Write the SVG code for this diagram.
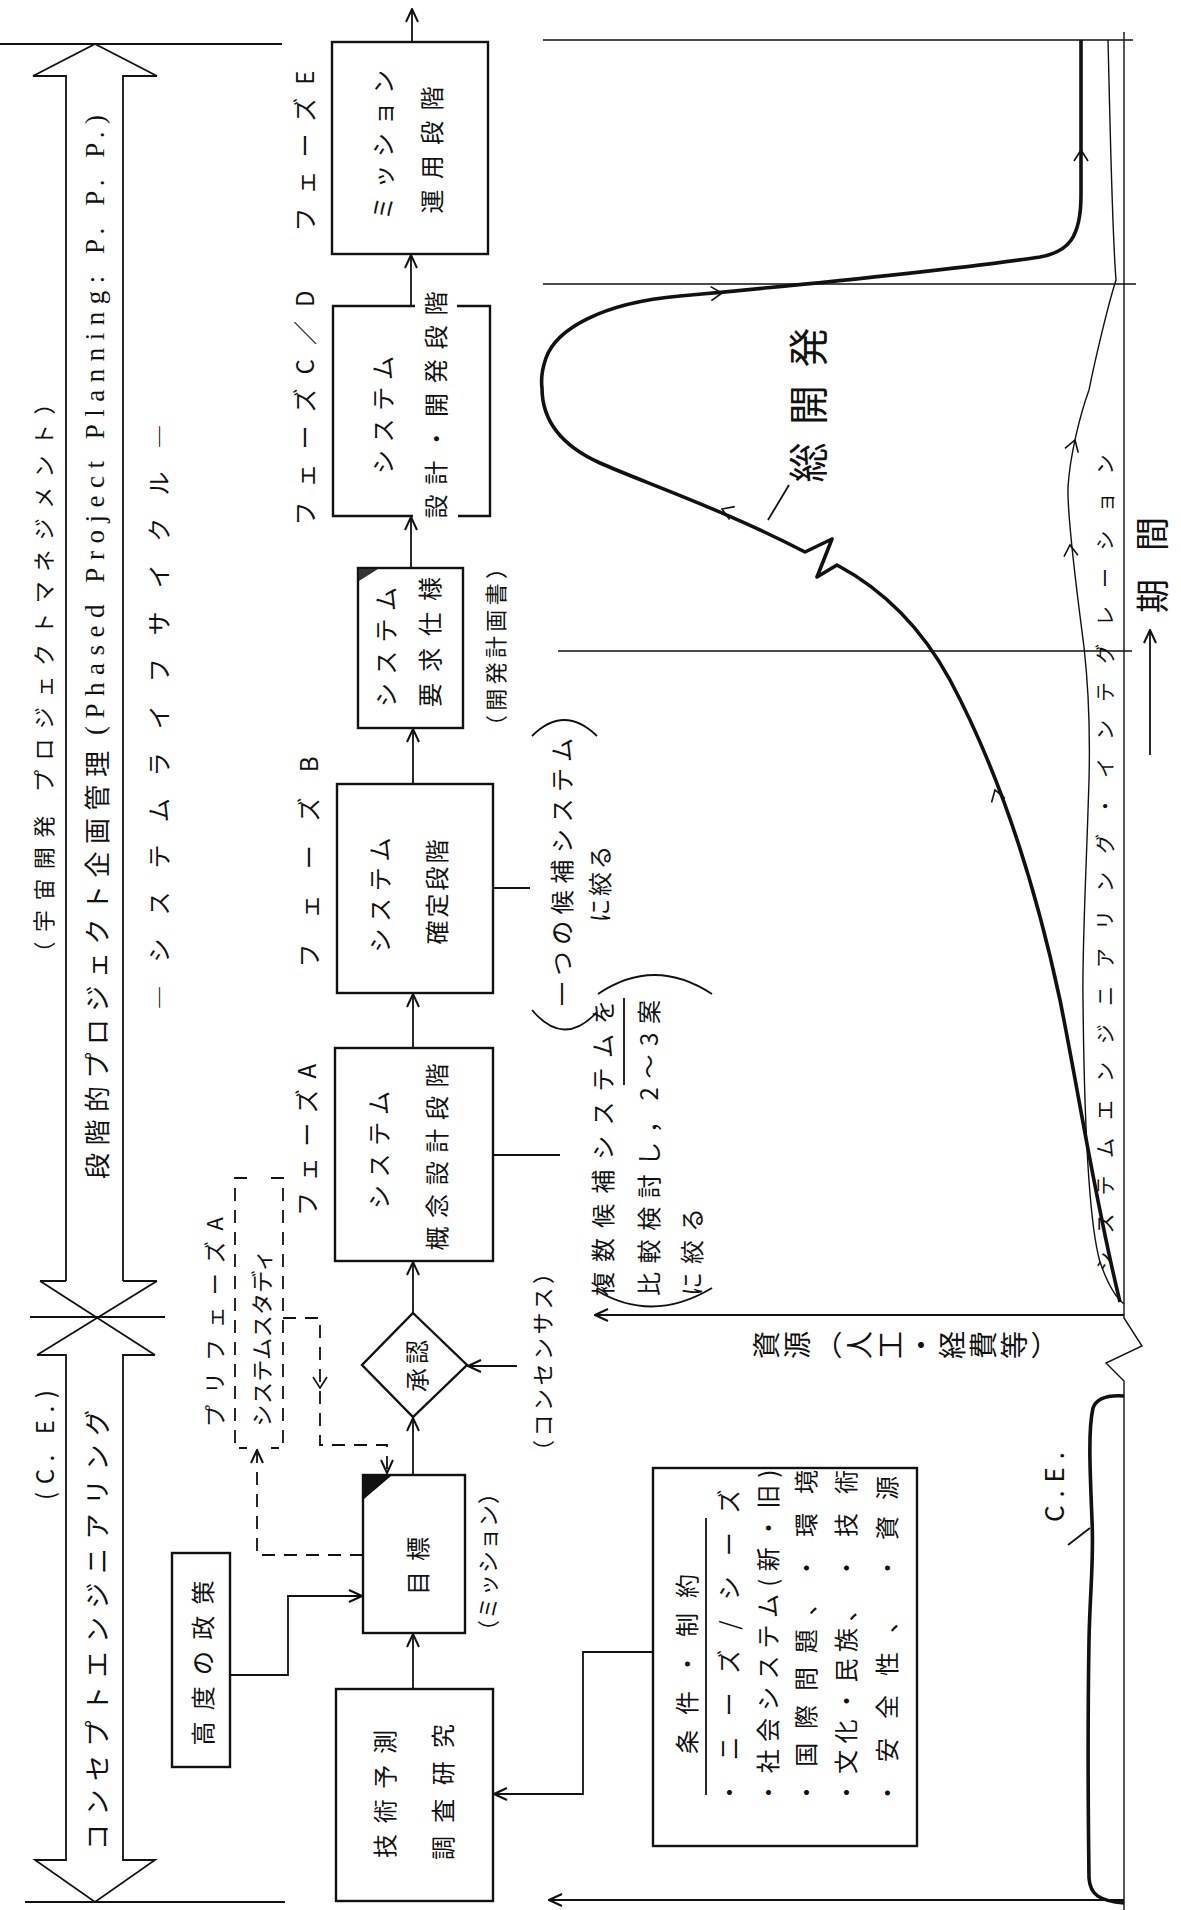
<svg xmlns="http://www.w3.org/2000/svg" width="1181" height="1910" viewBox="0 0 1181 1910">
<defs>
<style>
.jp{font-family:'Noto Sans CJK JP','Noto Sans CJK SC',sans-serif;fill:#111}
.en{font-family:'Liberation Serif',serif;fill:#111}
.r{text-anchor:middle;dominant-baseline:central}
.ln{fill:none;stroke:#111;stroke-width:1.8}
.bx{fill:none;stroke:#111;stroke-width:2.4}
.ds{fill:none;stroke:#111;stroke-width:1.8;stroke-dasharray:13 9}
.th{fill:none;stroke:#111;stroke-width:1.4}
.cv{fill:none;stroke:#111;stroke-width:3.6;stroke-linejoin:round}
</style>
<marker id="ah" viewBox="0 0 16 16" refX="15" refY="8" markerWidth="16" markerHeight="16" markerUnits="userSpaceOnUse" orient="auto">
<path d="M2,2 L15,8 L2,14" fill="none" stroke="#111" stroke-width="2"/>
</marker>
<path id="chev" d="M-11,-7 L0,0 L-11,7" fill="none" stroke="#111" stroke-width="1.6"/>
</defs>
<rect width="1181" height="1910" fill="#fff"/>

<g id="management-arrows">
<path class="ln" d="M66,1281 V76 H33 L95,44 L157,76 H123 V1281"/>
<path class="ln" d="M40,1281 H66 M123,1281 H157 M40,1281 L155,1355 M157,1281 L37,1355"/>
<path class="ln" d="M37,1355 H66 V1860 H35 L95,1902 L155,1860 H123 V1355 H155"/>
<path class="ln" d="M0,44 H282 M30,1317 H165 M25,1902 H285"/>
<text class="jp r" font-size="22" transform="translate(42 678) rotate(-90)" textLength="571" lengthAdjust="spacing">（宇宙開発 プロジェクトマネジメント）</text>
<text class="jp r" font-size="26" transform="translate(95 965) rotate(-90)" textLength="428" lengthAdjust="spacing">段階的プロジェクト企画管理</text>
<text class="en r" font-size="27" transform="translate(95 425) rotate(-90)" textLength="620" lengthAdjust="spacing">(Phased Project Planning: P. P. P.)</text>
<text class="jp r" font-size="24" transform="translate(157 717) rotate(-90)" textLength="585" lengthAdjust="spacing">―システムライフサイクル―</text>
<text class="jp r" font-size="24" transform="translate(43 1445) rotate(-90)" textLength="110" lengthAdjust="spacing">(C. E.)</text>
<text class="jp r" font-size="26" transform="translate(95 1630) rotate(-90)" textLength="440" lengthAdjust="spacing">コンセプトエンジニアリング</text>
</g>

<g id="phase-labels">
<text class="jp r" font-size="24" transform="translate(303 151) rotate(-90)" textLength="161" lengthAdjust="spacing">フェーズE</text>
<text class="jp r" font-size="24" transform="translate(303 408) rotate(-90)" textLength="235" lengthAdjust="spacing">フェーズC／D</text>
<text class="jp r" font-size="24" transform="translate(307 862) rotate(-90)" textLength="211" lengthAdjust="spacing">フェーズB</text>
<text class="jp r" font-size="24" transform="translate(305 1140) rotate(-90)" textLength="152" lengthAdjust="spacing">フェーズA</text>
</g>

<g id="node-phaseE">
<rect class="bx" x="332" y="42" width="156" height="212" stroke-width="3"/>
<text class="jp r" font-size="24" transform="translate(381 145) rotate(-90)" textLength="150" lengthAdjust="spacing">ミッション</text>
<text class="jp r" font-size="24" transform="translate(430 150) rotate(-90)" textLength="127" lengthAdjust="spacing">運用段階</text>
</g>

<g id="node-phaseCD">
<path class="bx" d="M415,306 H333 V516 H413 M458,516 H490 V306 H457" stroke-width="3"/>
<text class="jp r" font-size="24" transform="translate(381 415) rotate(-90)" textLength="118" lengthAdjust="spacing">システム</text>
<text class="jp r" font-size="24" transform="translate(434 405) rotate(-90)" textLength="227" lengthAdjust="spacing">設計・開発段階</text>
</g>

<g id="node-sysreq">
<rect class="bx" x="358" y="568" width="105" height="160"/>
<polygon points="359,569 378,569 359,581" fill="#333"/>
<text class="jp r" font-size="24" transform="translate(384 647) rotate(-90)" textLength="120" lengthAdjust="spacing">システム</text>
<text class="jp r" font-size="24" transform="translate(428 642) rotate(-90)" textLength="130" lengthAdjust="spacing">要求仕様</text>
<text class="jp r" font-size="22" transform="translate(494 647) rotate(-90)" textLength="180" lengthAdjust="spacing">（開発計画書）</text>
</g>

<g id="node-phaseB">
<rect class="bx" x="337" y="784" width="156" height="209"/>
<text class="jp r" font-size="24" transform="translate(378 895) rotate(-90)" textLength="115" lengthAdjust="spacing">システム</text>
<text class="jp r" font-size="24" transform="translate(435 892) rotate(-90)" textLength="105" lengthAdjust="spacing">確定段階</text>
</g>

<g id="node-phaseA">
<rect class="bx" x="335" y="1048" width="158" height="213"/>
<text class="jp r" font-size="24" transform="translate(377 1150) rotate(-90)" textLength="118" lengthAdjust="spacing">システム</text>
<text class="jp r" font-size="24" transform="translate(435 1157) rotate(-90)" textLength="187" lengthAdjust="spacing">概念設計段階</text>
</g>

<g id="node-approval">
<polygon class="bx" points="413,1313 467,1365 413,1417 362,1365"/>
<text class="jp r" font-size="24" transform="translate(415 1366) rotate(-90)" textLength="52" lengthAdjust="spacing">承認</text>
<text class="jp r" font-size="22" transform="translate(541 1362) rotate(-90)" textLength="200" lengthAdjust="spacing">（コンセンサス）</text>
</g>

<g id="node-prephaseA">
<path class="ds" d="M247,1178 H235 V1448 H247 M271,1178 H283 V1448 H271"/>
<text class="jp r" font-size="22" transform="translate(213 1322) rotate(-90)" textLength="210" lengthAdjust="spacing">プリフェーズA</text>
<text class="jp r" font-size="22" transform="translate(260 1338) rotate(-90)" textLength="177" lengthAdjust="spacing">システムスタディ</text>
</g>

<g id="node-goal">
<rect class="bx" x="363" y="1475" width="102" height="158"/>
<polygon points="364,1476 391,1476 364,1499" fill="#111"/>
<text class="jp r" font-size="24" transform="translate(416 1566) rotate(-90)" textLength="58" lengthAdjust="spacing">目標</text>
<text class="jp r" font-size="22" transform="translate(486 1562) rotate(-90)" textLength="160" lengthAdjust="spacing">（ミッション）</text>
</g>

<g id="node-policy">
<rect class="bx" x="172" y="1553" width="58" height="214"/>
<text class="jp r" font-size="24" transform="translate(201 1663) rotate(-90)" textLength="165" lengthAdjust="spacing">高度の政策</text>
</g>

<g id="node-research">
<rect class="bx" x="336" y="1689" width="157" height="212"/>
<text class="jp r" font-size="24" transform="translate(383 1794) rotate(-90)" textLength="128" lengthAdjust="spacing">技術予測</text>
<text class="jp r" font-size="24" transform="translate(441 1792) rotate(-90)" textLength="136" lengthAdjust="spacing">調査研究</text>
</g>

<g id="node-conditions">
<rect class="bx" x="653" y="1468" width="264" height="378"/>
<path class="ln" d="M706,1518 V1795"/>
<text class="jp r" font-size="24" transform="translate(685 1664) rotate(-90)" textLength="180" lengthAdjust="spacing">条件・制約</text>
<text class="jp r" font-size="24" transform="translate(727 1647) rotate(-90)" textLength="315" lengthAdjust="spacing">・ニーズ/シーズ</text>
<text class="jp r" font-size="24" transform="translate(766 1637) rotate(-90)" textLength="335" lengthAdjust="spacing">・社会システム(新・旧)</text>
<text class="jp r" font-size="24" transform="translate(804 1698) rotate(-90)" textLength="213" lengthAdjust="spacing">・国際問題、</text>
<text class="jp r" font-size="24" transform="translate(804 1525) rotate(-90)" textLength="110" lengthAdjust="spacing">・環境</text>
<text class="jp r" font-size="24" transform="translate(844 1701) rotate(-90)" textLength="207" lengthAdjust="spacing">・文化・民族、</text>
<text class="jp r" font-size="24" transform="translate(844 1525) rotate(-90)" textLength="110" lengthAdjust="spacing">・技術</text>
<text class="jp r" font-size="24" transform="translate(885 1707) rotate(-90)" textLength="196" lengthAdjust="spacing">・安全性、</text>
<text class="jp r" font-size="24" transform="translate(885 1528) rotate(-90)" textLength="104" lengthAdjust="spacing">・資源</text>
</g>

<g id="notes">
<path class="ln" d="M493,888 H530"/>
<path class="ln" d="M532,736 Q564,704 597,736 M532,1010 Q564,1048 597,1012"/>
<text class="jp r" font-size="24" transform="translate(560 872) rotate(-90)" textLength="268" lengthAdjust="spacing">一つの候補システム</text>
<text class="jp r" font-size="24" transform="translate(598 884) rotate(-90)" textLength="77" lengthAdjust="spacing">に絞る</text>
<path class="ln" d="M493,1155 H560"/>
<path class="ln" d="M598,994 Q654,956 712,994 M596,1290 Q652,1324 712,1288"/>
<path class="ln" d="M624,998 V1085"/>
<text class="jp r" font-size="24" transform="translate(601 1148) rotate(-90)" textLength="296" lengthAdjust="spacing">複数候補システムを</text>
<text class="jp r" font-size="24" transform="translate(647 1148) rotate(-90)" textLength="296" lengthAdjust="spacing">比較検討し，2〜3案</text>
<text class="jp r" font-size="24" transform="translate(690 1252) rotate(-90)" textLength="88" lengthAdjust="spacing">に絞る</text>
</g>

<g id="connectors">
<path class="ln" d="M412,42 V9" marker-end="url(#ah)"/>
<path class="ln" d="M411,306 V255" marker-end="url(#ah)"/>
<path class="ln" d="M411,568 V517" marker-end="url(#ah)"/>
<path class="ln" d="M413,784 V729" marker-end="url(#ah)"/>
<path class="ln" d="M413,1048 V994" marker-end="url(#ah)"/>
<path class="ln" d="M413,1313 V1262" marker-end="url(#ah)"/>
<path class="ln" d="M413,1475 V1418" marker-end="url(#ah)"/>
<path class="ln" d="M413,1689 V1634" marker-end="url(#ah)"/>
<path class="ln" d="M517,1366 H468" marker-end="url(#ah)"/>
<path class="ln" d="M230,1675 H288 V1596 H362" marker-end="url(#ah)"/>
<path class="ln" d="M653,1652 H583 V1794 H494" marker-end="url(#ah)"/>
<path class="ds" d="M363,1555 H257 V1450" marker-end="url(#ah)"/>
<path class="ds" d="M283,1318 H320 V1445 H387 V1473" marker-end="url(#ah)"/>
<use href="#chev" transform="translate(320 1388) rotate(90)"/>
</g>

<g id="chart">
<path class="th" d="M543,40 H1133 M543,284 H1136 M558,651 H1132"/>
<path class="th" d="M1124,32 V1318 L1142,1346 L1106,1363 L1124,1381 V1910" stroke-width="1.8"/>
<path class="ln" d="M1124,1315 H595" marker-end="url(#ah)"/>
<path class="ln" d="M1124,1900 H549" marker-end="url(#ah)"/>
<path class="cv" d="M1081,40 L1081,195 C1081,238 1068,252 1040,257 C950,270 800,285 680,296 C600,303 556,330 546,358 C541,372 541,380 542,388 C542,420 560,445 600,463 C640,481 720,508 805,552 L832,539 L817,577 L837,565 C880,588 920,625 950,680 C990,755 1030,860 1060,1000 C1080,1100 1095,1200 1120,1302"/>
<use href="#chev" transform="translate(1081 150) rotate(-90)"/>
<use href="#chev" transform="translate(722 293) rotate(-3)"/>
<use href="#chev" transform="translate(722 509) rotate(-158)"/>
<use href="#chev" transform="translate(995 790) rotate(-107)"/>
<path class="th" d="M1108,40 C1110,120 1112,230 1116,280 C1108,305 1095,360 1089,390 C1080,415 1070,455 1068,487 C1067,520 1078,600 1084,647 C1090,700 1090,740 1089,780 C1086,880 1082,950 1083,1000 C1084,1100 1088,1220 1100,1262 C1108,1285 1115,1297 1124,1304" stroke-width="1.6"/>
<use href="#chev" transform="translate(1075 440) rotate(-72)"/>
<use href="#chev" transform="translate(1070 545) rotate(-95)"/>
<path class="cv" stroke-width="3" d="M1124,1903 C1100,1901 1090,1895 1089,1878 C1088,1800 1088,1700 1089,1640 C1090,1590 1094,1560 1092,1520 C1090,1470 1088,1430 1093,1408 C1097,1397 1110,1395 1124,1396"/>
<path class="ln" d="M1068,1545 L1090,1528"/>
<text class="jp r" font-size="26" transform="translate(1052 1487) rotate(-90)" textLength="70" lengthAdjust="spacing">C.E.</text>
<path class="ln" d="M789,485 L768,520"/>
<text class="jp r" font-size="40" transform="translate(806 405) rotate(-90)" textLength="155" lengthAdjust="spacing">総開発</text>
<text class="jp r" font-size="20" transform="translate(1104 863) rotate(-90)" textLength="817" lengthAdjust="spacing">システムエンジニアリング・インテグレーション</text>
<text class="jp" font-size="28" transform="translate(752 1345) rotate(-90)" style="writing-mode:vertical-rl" letter-spacing="3">資源（人工・経費等）</text>
<path class="ln" d="M1150,755 V630" marker-end="url(#ah)"/>
<text class="jp r" font-size="34" transform="translate(1150 565) rotate(-90)" textLength="96" lengthAdjust="spacing">期間</text>
</g>
</svg>
